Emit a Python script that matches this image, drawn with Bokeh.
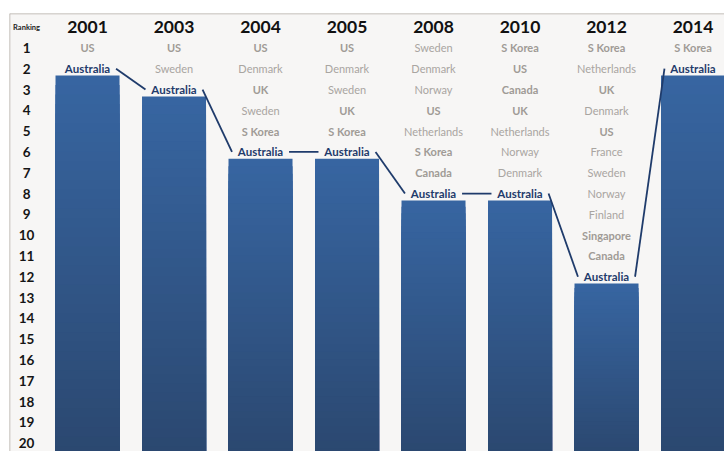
import numpy as np
from bokeh.plotting import figure
from bokeh.models import Range1d, Span
from bokeh.core.properties import value
from bokeh.embed import file_html
from bokeh.resources import INLINE

# ---- data ----
years = ["2001", "2003", "2004", "2005", "2008", "2010", "2012", "2014"]
australia_rank = [2, 3, 6, 6, 8, 8, 12, 2]
countries_above = [
    ["US"],
    ["US", "Sweden"],
    ["US", "Denmark", "UK", "Sweden", "S Korea"],
    ["US", "Denmark", "Sweden", "UK", "S Korea"],
    ["Sweden", "Denmark", "Norway", "US", "Netherlands", "S Korea", "Canada"],
    ["S Korea", "US", "Canada", "UK", "Netherlands", "Norway", "Denmark"],
    ["S Korea", "Netherlands", "UK", "Denmark", "US", "France", "Sweden",
     "Norway", "Finland", "Singapore", "Canada"],
    ["S Korea"],
]
bold_countries = ["US", "UK", "S Korea", "Canada", "Singapore"]
rank_labels = [str(r) for r in range(1, 21)]

FONT = "Lato"
GRAY = "#a9a5a1"
GRAY_B = "#a09b96"
NAVY = "#1f3b6b"

X0, X1 = -0.902, 7.364
Y_TOP, Y_BOT = -0.654, 20.40

p = figure(width=724, height=451, output_backend="svg", toolbar_location=None,
           x_range=Range1d(X0, X1), y_range=Range1d(Y_BOT, Y_TOP),
           min_border_left=9, min_border_right=0, min_border_top=13, min_border_bottom=0)
p.axis.visible = False
p.grid.visible = False
p.background_fill_color = "#f7f6f5"
p.border_fill_color = "white"
p.outline_line_color = None

xs = np.arange(len(years), dtype=float)
bar_w = 0.74
bar_off = 0.33
y_bottom = 20.6

# bars with vertical gradient (overlapping layers, no seams)
top_c = np.array([0x37, 0x65, 0xa1], float)
bot_c = np.array([0x2b, 0x48, 0x70], float)
nseg = 40
L, R, T, B, C = [], [], [], [], []
for x, r in zip(xs, australia_rank):
    t0 = r + bar_off
    edges = np.linspace(t0, y_bottom, nseg + 1)
    for k in range(nseg):
        f = k / (nseg - 1)
        c = top_c + (bot_c - top_c) * f
        L.append(x - bar_w / 2)
        R.append(x + bar_w / 2)
        T.append(edges[k])
        B.append(y_bottom)
        C.append("#%02x%02x%02x" % tuple(int(round(v)) for v in c))
p.quad(left=L, right=R, top=T, bottom=B, fill_color=C, line_color=None)

# frame border (top and left only)
p.add_layout(Span(location=Y_TOP, dimension="width", line_color="#b3ada6", line_width=1.5))
p.add_layout(Span(location=X0, dimension="height", line_color="#b3ada6", line_width=1.5))

# connecting segments between Australia labels
d = 0.33
p.segment(x0=xs[:-1] + d, y0=australia_rank[:-1], x1=xs[1:] - d, y1=australia_rank[1:],
          line_color=NAVY, line_width=1.8)

# header
p.text(x=[-0.705], y=[0], text=["Ranking"], text_font=value(FONT), text_font_style="bold",
       text_font_size="7.5px", text_color="#222222", text_align="center", text_baseline="middle")
p.text(x=xs, y=[0] * len(years), text=years, text_font=value(FONT), text_font_style="bold",
       text_font_size="17.5px", text_color="#111111", text_align="center", text_baseline="middle")
p.text(x=[-0.705] * 20, y=list(range(1, 21)), text=rank_labels, text_font=value(FONT),
       text_font_style="bold", text_font_size="13.5px", text_color="#151515",
       text_align="center", text_baseline="middle")

# country labels
bx, by, bt, nx, ny, nt = [], [], [], [], [], []
for x, names in zip(xs, countries_above):
    for k, n in enumerate(names):
        if n in bold_countries:
            bx.append(x); by.append(k + 1); bt.append(n)
        else:
            nx.append(x); ny.append(k + 1); nt.append(n)
p.text(x=nx, y=ny, text=nt, text_font=value(FONT), text_font_size="11px", text_color=GRAY,
       text_align="center", text_baseline="middle")
p.text(x=bx, y=by, text=bt, text_font=value(FONT), text_font_style="bold", text_font_size="11px",
       text_color=GRAY_B, text_align="center", text_baseline="middle")
p.text(x=xs, y=australia_rank, text=["Australia"] * len(years), text_font=value(FONT),
       text_font_style="bold", text_font_size="11.5px", text_color=NAVY,
       text_align="center", text_baseline="middle")

open("out.html", "w").write(file_html(p, INLINE))
